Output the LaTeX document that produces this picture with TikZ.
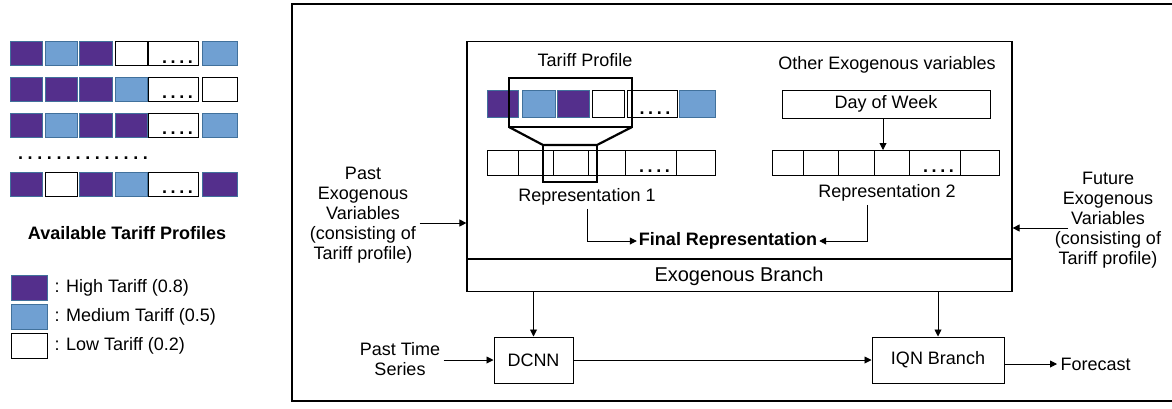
\documentclass[tikz,border=0pt]{standalone}
\usepackage{fontspec}
\setmainfont{Liberation Sans}
\usetikzlibrary{positioning,arrows.meta}
\definecolor{tariffhigh}{RGB}{84,47,140}
\definecolor{tariffmed}{RGB}{112,160,210}
\definecolor{celledge}{RGB}{65,113,156}
\newcommand{\fourdots}{\textbf{.\hspace{3.6pt}.\hspace{3.6pt}.\hspace{3.6pt}.}}
\newcommand{\spdot}{.\hspace{4.6pt}}

\begin{document}
\begin{tikzpicture}[x=1pt, y=-1pt,
    font=\fontsize{18}{20}\selectfont,
    cell/.style={rectangle, draw, line width=1pt, inner sep=0pt, outer sep=0pt, minimum height=24pt},
    hi/.style={cell, fill=tariffhigh, draw=celledge},
    md/.style={cell, fill=tariffmed, draw=celledge},
    lo/.style={cell, fill=white, draw=black},
    dotmark/.style={anchor=base, inner sep=0pt},
    lgbox/.style={minimum width=36pt, minimum height=25pt},
    block/.style={rectangle, draw, line width=1pt, inner sep=0pt, minimum height=46pt},
    caption/.style={align=center},
    arr/.style={line width=0.9pt, -{Triangle[length=7pt,width=7pt]}},
    zoomline/.style={line width=2.2pt}]
\useasboundingbox (0,0) rectangle (1172,408);

% available tariff profiles
\foreach \y/\ka/\kb/\kc/\kd/\kf [count=\r] in {53.5/hi/md/hi/lo/md, 89/hi/hi/hi/md/lo, 125/hi/md/hi/hi/md, 184/hi/lo/hi/md/hi}{
  \node[\ka, minimum width=32pt] (p\r-1) at (26,\y) {};
  \node[\kb, minimum width=32pt] (p\r-2) at (61,\y) {};
  \node[\kc, minimum width=33pt] (p\r-3) at (95.5,\y) {};
  \node[\kd, minimum width=32pt] (p\r-4) at (131,\y) {};
  \node[lo, minimum width=50pt] (p\r-5) at (173,\y) {};
  \node[\kf, minimum width=35pt] (p\r-6) at (219.5,\y) {};
  \node[dotmark] (d\r) at ([xshift=4.5pt,yshift=2.5pt]p\r-5.south) {\fourdots};
}
\node[dotmark] (moreprofiles) at (83,159) {\textbf{\spdot\spdot\spdot\spdot\spdot\spdot\spdot\spdot\spdot\spdot\spdot\spdot\spdot.}};
\node[font=\fontsize{18}{20}\selectfont\bfseries] (avail) at (127,233) {Available Tariff Profiles};

% legend
\node[hi, lgbox] (lgh) at (29,287.5) {};
\node[md, lgbox, below=4pt of lgh] (lgm) {};
\node[lo, lgbox, below=4pt of lgm] (lgl) {};
\node[right=4pt of lgh] (lghtxt) {: High Tariff (0.8)};
\node[right=4pt of lgm] (lgmtxt) {: Medium Tariff (0.5)};
\node[right=4pt of lgl] (lgltxt) {: Low Tariff (0.2)};

% outer frame
\draw[line width=1.5pt] (1172,4) -- (292,4) -- (292,401) -- (1172,401);

% exogenous branch
\node[rectangle, draw, line width=1.2pt, minimum width=545pt, minimum height=250pt, inner sep=0pt] (exo) at (739.5,166.5) {};
\draw[line width=1.2pt] (exo.west |- 0,259) -- (exo.east |- 0,259);
\node[font=\fontsize{20}{22}\selectfont] (exobranch) at (739,276) {Exogenous Branch};

\node (tptitle) at (585,60) {Tariff Profile};
\foreach \st/\x/\w [count=\i] in {hi/502.5/31, md/538.5/33, hi/573/32, lo/608/32, lo/652/50, md/697/36}
  \node[\st, minimum width=\w pt, minimum height=27pt] (t\i) at (\x,103.5) {};
\node[dotmark] (tdots) at ([xshift=3pt,yshift=3pt]t5.south) {\fourdots};

\foreach \x/\w [count=\i] in {502.5/31, 535.5/35, 570.5/35, 606.5/37, 650.5/51, 695.5/39}
  \node[lo, minimum width=\w pt, minimum height=25pt] (a\i) at (\x,162.5) {};
\node[dotmark] (adots) at ([xshift=4pt,yshift=3pt]a5.south) {\fourdots};

% convolution window
\draw[zoomline] (509,78) rectangle (632,127);
\draw[zoomline] (509,127) -- (543,145) -- (597,145) -- (632,127);
\draw[zoomline] (543,145) rectangle (597,182);

\node (othertitle) at (887,65) {Other Exogenous variables};
\node[rectangle, draw, line width=1pt, minimum width=208pt, minimum height=28pt, inner sep=0pt] (dow) at (886,104) {Day of Week};
\foreach \x/\w [count=\i] in {787.5/31, 820.5/35, 856/36, 891.5/35, 934.5/51, 979.5/39}
  \node[lo, minimum width=\w pt, minimum height=25pt] (b\i) at (\x,162.5) {};
\node[dotmark] (bdots) at ([xshift=4pt,yshift=3pt]b5.south) {\fourdots};
\draw[arr] ([xshift=-3pt]dow.south) -- ([xshift=-3pt]dow.south |- b4.north);

\node (rep1) at (587,197) {Representation 1};
\node (rep2) at (887,193) {Representation 2};
\node[font=\fontsize{18}{20}\selectfont\bfseries, inner sep=2pt] (final) at (728,241) {Final Representation};
\draw[arr] (rep1.south) |- (final.west);
\draw[arr] ([xshift=-20pt]rep2.south) |- (final.east);

% side inputs
\node[caption] (pastexo) at (363,215) {Past\\Exogenous\\Variables\\(consisting of\\Tariff profile)};
\draw[arr] ([yshift=-8pt]pastexo.east) -- ([yshift=-8pt]pastexo.east -| exo.west);
\node[caption] (futexo) at (1108,220) {Future\\Exogenous\\Variables\\(consisting of\\Tariff profile)};
\coordinate (futin) at (1068,228);
\draw[arr] (futin) -- (futin -| exo.east);

% forecasting path
\node[block, minimum width=79pt] (dcnn) at (533.5,360) {DCNN};
\node[block, minimum width=132pt] (iqn) at (938,360) {IQN Branch};
\node[caption] (pts) at (400,359) {Past Time\\Series};
\node[anchor=west] (fcst) at (1057,364) {Forecast};
\draw[arr] (exo.south -| dcnn.north) -- (dcnn.north);
\draw[arr] (exo.south -| iqn.north) -- (iqn.north);
\draw[arr] (pts.east |- dcnn.west) -- (dcnn.west);
\draw[arr] (dcnn) -- (iqn);
\draw[arr] (iqn.east |- fcst.west) -- (fcst.west);
\end{tikzpicture}
\end{document}
